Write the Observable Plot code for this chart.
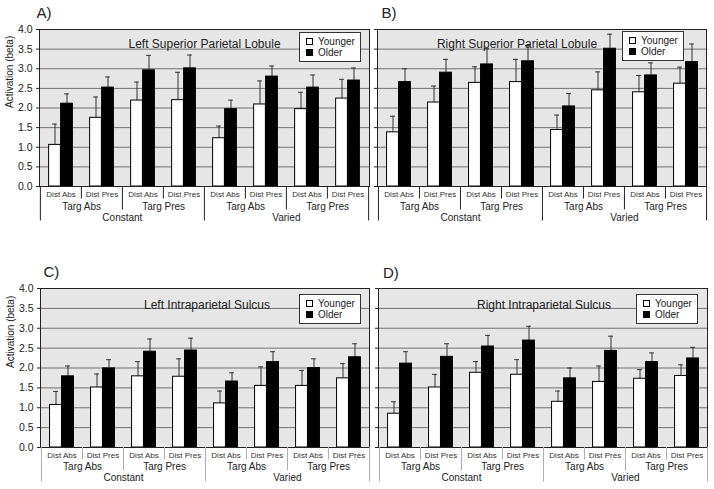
<!DOCTYPE html>
<html><head><meta charset="utf-8">
<script src="https://cdn.jsdelivr.net/npm/d3@7"></script>
<script src="https://cdn.jsdelivr.net/npm/@observablehq/plot@0.6"></script>
<style>
body{margin:0;background:#fff;}
#wrap{position:relative;width:714px;height:489px;overflow:hidden;font-family:"Liberation Sans",Arial,sans-serif;}
.panel{position:absolute;}
.panel svg{overflow:visible;}
.legend{position:absolute;box-sizing:border-box;background:#fff;border:1px solid #333;width:62px;height:30px;padding:3px 0 0 6px;font-size:10px;color:#222;}
.legend .row{display:flex;align-items:center;height:11px;line-height:11px;}
.legend .sw{box-sizing:border-box;width:7px;height:7px;border:1px solid #000;margin-right:5px;}
</style></head><body><div id="wrap"></div>
<script>
// ---- categories ----
const conditions = ["Constant", "Varied"];
const targets = ["Targ Abs", "Targ Pres"];
const distractors = ["Dist Abs", "Dist Pres"];
const groups = ["Younger", "Older"];
const groupFills = ["#ffffff", "#000000"];
const yTicks = [0, 0.5, 1, 1.5, 2, 2.5, 3, 3.5, 4];
const yLabel = "Activation (beta)";
const panelLetters = ["A)", "B)", "C)", "D)"];
const panelTitles = ["Left Superior Parietal Lobule", "Right Superior Parietal Lobule", "Left Intraparietal Sulcus", "Right Intraparietal Sulcus"];

// ---- values (order: Constant TA DA, TA DP, TP DA, TP DP, Varied TA DA, TA DP, TP DA, TP DP) ----
const lsplYoungerMean = [1.06, 1.75, 2.19, 2.20, 1.23, 2.09, 1.97, 2.24];
const lsplYoungerSE   = [0.53, 0.53, 0.47, 0.71, 0.31, 0.60, 0.43, 0.49];
const lsplOlderMean   = [2.11, 2.52, 2.96, 3.01, 1.97, 2.80, 2.52, 2.70];
const lsplOlderSE     = [0.25, 0.27, 0.38, 0.34, 0.23, 0.27, 0.32, 0.32];

const rsplYoungerMean = [1.38, 2.14, 2.64, 2.66, 1.44, 2.45, 2.40, 2.62];
const rsplYoungerSE   = [0.41, 0.42, 0.41, 0.58, 0.38, 0.47, 0.43, 0.42];
const rsplOlderMean   = [2.66, 2.90, 3.11, 3.19, 2.04, 3.51, 2.83, 3.17];
const rsplOlderSE     = [0.34, 0.34, 0.40, 0.40, 0.33, 0.37, 0.32, 0.46];

const lipsYoungerMean = [1.07, 1.51, 1.79, 1.78, 1.11, 1.55, 1.55, 1.74];
const lipsYoungerSE   = [0.34, 0.34, 0.37, 0.45, 0.31, 0.48, 0.39, 0.37];
const lipsOlderMean   = [1.79, 1.99, 2.41, 2.44, 1.66, 2.15, 2.00, 2.27];
const lipsOlderSE     = [0.26, 0.22, 0.32, 0.31, 0.22, 0.26, 0.23, 0.34];

const ripsYoungerMean = [0.85, 1.51, 1.88, 1.83, 1.15, 1.65, 1.73, 1.80];
const ripsYoungerSE   = [0.30, 0.33, 0.28, 0.38, 0.27, 0.40, 0.23, 0.28];
const ripsOlderMean   = [2.11, 2.28, 2.54, 2.69, 1.74, 2.43, 2.15, 2.24];
const ripsOlderSE     = [0.30, 0.33, 0.28, 0.36, 0.26, 0.37, 0.23, 0.28];

const panelValues = [
  [[lsplYoungerMean, lsplYoungerSE], [lsplOlderMean, lsplOlderSE]],
  [[rsplYoungerMean, rsplYoungerSE], [rsplOlderMean, rsplOlderSE]],
  [[lipsYoungerMean, lipsYoungerSE], [lipsOlderMean, lipsOlderSE]],
  [[ripsYoungerMean, ripsYoungerSE], [ripsOlderMean, ripsOlderSE]]
];

// ---- layout (styles, not data) ----
const layouts = [
  {left: 0,   top: 0,   width: 372, height: 240, ml: 39, mr: 3, mt: 29, mb: 54, labels: true,
   letterDx: -3, letterDy: -16.5, titleDx: 0, titleDy: 10, lab: [10, 23.3, 34.3], sepColor: "#222",
   legend: {right: 8, top: 3}},
  {left: 357, top: 0,   width: 357, height: 240, ml: 20, mr: 8, mt: 29, mb: 54, labels: false,
   letterDx: 4, letterDy: -16.5, titleDx: -25, titleDy: 10, lab: [10, 23.3, 34.3], sepColor: "#222",
   legend: {right: 22, top: 2}},
  {left: 0,   top: 245, width: 372, height: 244, ml: 40, mr: 3, mt: 43, mb: 42, labels: true,
   letterDx: 3, letterDy: -16, titleDx: 2, titleDy: 11.7, lab: [10, 22.3, 33.3], sepColor: "#aaa",
   legend: {right: 8, top: 6}},
  {left: 357, top: 245, width: 357, height: 244, ml: 21, mr: 7, mt: 43, mb: 42, labels: false,
   letterDx: 4.5, letterDy: -15, titleDx: 1, titleDy: 11.7, lab: [10, 22.3, 33.3], sepColor: "#aaa",
   legend: {right: 9, top: 6}}
];

// ---- build cells ----
const cells = [];
conditions.forEach((c, ci) => targets.forEach((t, ti) => distractors.forEach((d, di) => {
  cells.push({key: `${c}|${t}|${d}`, cond: c, targ: t, dist: d, ci, ti, di});
})));
const keys = cells.map(d => d.key);

const wrap = document.getElementById("wrap");
const font = "'Liberation Sans', Arial, sans-serif";
const barW = 12;

layouts.forEach((L, p) => {
  const bw = (L.width - L.ml - L.mr) / keys.length;
  const series = groups.map((g, gi) => cells.map((c, i) => ({
    key: c.key, group: g, mean: panelValues[p][gi][0][i], top: panelValues[p][gi][0][i] + panelValues[p][gi][1][i]
  })));
  const marks = [
    Plot.frame({fill: "#e6e6e6", stroke: "none"}),
    Plot.ruleY(yTicks.slice(1), {stroke: "#707070", strokeWidth: 1}),
  ];
  series.forEach((s, gi) => {
    const off = gi === 0 ? -barW / 2 : barW / 2;
    marks.push(Plot.ruleX(s, {x: "key", y1: "mean", y2: "top", dx: off, stroke: "#333", strokeWidth: 1}));
    marks.push(Plot.tickY(s, {x: "key", y: "top", dx: off, insetLeft: bw / 2 - 2.5, insetRight: bw / 2 - 2.5, stroke: "#333", strokeWidth: 1}));
    marks.push(Plot.barY(s, {
      x: "key", y: "mean", fill: groupFills[gi], stroke: "#000", strokeWidth: 1,
      insetLeft: gi === 0 ? bw / 2 - barW : bw / 2,
      insetRight: gi === 0 ? bw / 2 : bw / 2 - barW
    }));
  });
  marks.push(Plot.frame({stroke: "#222", strokeWidth: 1, fill: "none"}));
  // hierarchical category axis separators
  const zero = () => 0;
  const sepShort = cells.filter(c => c.di === 1);
  const sepMed = cells.filter(c => c.di === 0 && c.ti === 1);
  const sepLong = cells.filter(c => c.di === 0 && c.ti === 0);
  const sepEnd = cells.slice(-1);
  [[sepShort, -bw / 2, 12.5], [sepMed, -bw / 2, 23.5], [sepLong, -bw / 2, 34.5], [sepEnd, bw / 2, 34.5]].forEach(([data, dx, len]) => {
    marks.push(Plot.ruleX(data, {x: "key", y1: zero, y2: zero, dx, insetTop: 0, insetBottom: -len, stroke: L.sepColor, strokeWidth: 1}));
  });
  marks.push(Plot.text(cells, {x: "key", text: "dist", frameAnchor: "bottom", dy: L.lab[0], fontSize: 8, fill: "#333"}));
  marks.push(Plot.text(cells.filter(c => c.di === 0), {x: "key", text: "targ", frameAnchor: "bottom", dx: bw / 2, dy: L.lab[1], fontSize: 10, fill: "#222"}));
  marks.push(Plot.text(cells.filter(c => c.di === 0 && c.ti === 1), {x: "key", text: "cond", frameAnchor: "bottom", dx: -bw / 2, dy: L.lab[2], fontSize: 10, fill: "#222"}));
  // title and panel letter
  marks.push(Plot.text([panelTitles[p]], {frameAnchor: "top", dx: L.titleDx, dy: L.titleDy, fontSize: 12, fill: "#222"}));
  marks.push(Plot.text([panelLetters[p]], {frameAnchor: "top-left", textAnchor: "start", lineAnchor: "middle", dx: L.letterDx, dy: L.letterDy, fontSize: 15, fill: "#222"}));
  if (L.labels) {
    marks.push(Plot.text([yLabel], {frameAnchor: "left", rotate: -90, dx: -29.5, fontSize: 10, fill: "#222"}));
  }
  const chart = Plot.plot({
    width: L.width, height: L.height,
    marginLeft: L.ml, marginRight: L.mr, marginTop: L.mt, marginBottom: L.mb,
    style: {fontFamily: font, fontSize: "10.5px", color: "#222", background: "transparent", overflow: "visible"},
    x: {domain: keys, padding: 0, axis: null},
    y: {domain: [0, 4], ticks: yTicks, tickSize: 3, tickPadding: 4, label: null,
        tickFormat: L.labels ? d3.format(".1f") : () => ""},
    marks
  });
  const div = document.createElement("div");
  div.className = "panel";
  div.style.left = L.left + "px";
  div.style.top = L.top + "px";
  div.appendChild(chart);
  wrap.appendChild(div);
  // legend (inside plot area, top-right)
  const leg = document.createElement("div");
  leg.className = "legend";
  leg.style.left = (L.left + L.width - L.mr - L.legend.right - 62) + "px";
  leg.style.top = (L.top + L.mt + L.legend.top) + "px";
  groups.forEach((g, gi) => {
    const row = document.createElement("div");
    row.className = "row";
    const sw = document.createElement("span");
    sw.className = "sw";
    sw.style.background = groupFills[gi];
    row.appendChild(sw);
    row.appendChild(document.createTextNode(g));
    leg.appendChild(row);
  });
  wrap.appendChild(leg);
});
</script></body></html>
